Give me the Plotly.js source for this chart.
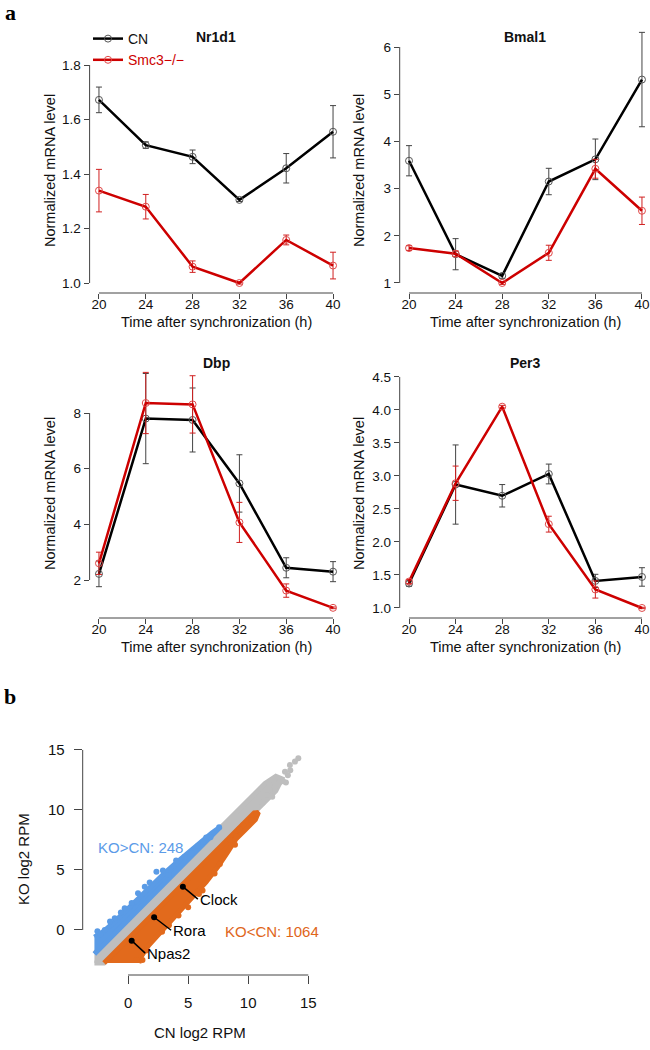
<!DOCTYPE html>
<html>
<head>
<meta charset="utf-8">
<script src="https://cdn.plot.ly/plotly-3.0.1.min.js"></script>
<style>
  body { margin: 0; background: white; }
  #chart { width: 650px; height: 1050px; }
</style>
</head>
<body>
<div id="chart"></div>
<script>
// ---- panel a: qPCR time course ----
var timePoints = [20, 24, 28, 32, 36, 40];
var timeTicks = [20, 24, 28, 32, 36, 40];

var nr1d1CN = [1.672, 1.506, 1.463, 1.305, 1.421, 1.555];
var nr1d1CNErr = [0.047, 0.012, 0.025, 0.006, 0.054, 0.096];
var nr1d1KO = [1.339, 1.280, 1.060, 1.000, 1.158, 1.064];
var nr1d1KOErr = [0.078, 0.045, 0.021, 0.004, 0.018, 0.049];
var nr1d1Ticks = [1.0, 1.2, 1.4, 1.6, 1.8];

var bmal1CN = [3.59, 1.61, 1.15, 3.15, 3.62, 5.31];
var bmal1CNErr = [0.32, 0.33, 0.05, 0.28, 0.43, 1.0];
var bmal1KO = [1.74, 1.62, 1.0, 1.64, 3.42, 2.53];
var bmal1KOErr = [0.05, 0.06, 0.03, 0.16, 0.2, 0.29];
var bmal1Ticks = [1, 2, 3, 4, 5, 6];

var dbpCN = [2.22, 7.80, 7.75, 5.47, 2.44, 2.30];
var dbpCNErr = [0.46, 1.62, 1.15, 1.03, 0.36, 0.36];
var dbpKO = [2.60, 8.36, 8.31, 4.07, 1.62, 1.00];
var dbpKOErr = [0.40, 1.10, 1.03, 0.72, 0.24, 0.03];
var dbpTicks = [2, 4, 6, 8];

var per3CN = [1.37, 2.87, 2.70, 3.03, 1.41, 1.47];
var per3CNErr = [0.04, 0.60, 0.17, 0.15, 0.10, 0.14];
var per3KO = [1.40, 2.89, 4.05, 2.27, 1.28, 1.00];
var per3KOErr = [0.03, 0.26, 0.02, 0.12, 0.13, 0.01];
var per3Ticks = [1.0, 1.5, 2.0, 2.5, 3.0, 3.5, 4.0, 4.5];

// ---- panel b: KO vs CN scatter (dense areas as outlines, plus stray points) ----
var greyBandX = [-2.8, -2.0, 3, 8, 10.5, 11.5, 12.3, 12.8, 12.3, 11.4, 10.2, 8, 5, 2, -1, -2.8];
var greyBandY = [-2.75, -2.75, 2.25, 7.25, 9.75, 10.7, 11.6, 12.6, 12.8, 12.2, 11.0, 8.8, 5.8, 2.8, -0.2, -1.95];
var koUpX = [-2.8, 7.4, 7.7, 7.0, 6.0, 5.0, 4.0, 3.0, 2.0, 1.0, 0.0, -1.0, -2.0, -2.8];
var koUpY = [-2.0, 8.2, 8.6, 8.1, 7.3, 6.5, 5.6, 4.7, 3.7, 2.7, 1.8, 0.8, -0.1, -0.6];
var koDownX = [-2.0, 10.5, 10.85, 10.6, 9.8, 9.0, 8.3, 7.5, 6.5, 5.5, 4.5, 3.5, 2.5, 1.7, 1.1, 0.9];
var koDownY = [-2.75, 9.75, 9.8, 9.2, 8.4, 7.6, 6.5, 5.3, 4.0, 2.9, 1.9, 0.8, -0.3, -1.3, -2.2, -2.75];

var greyDotsX = [14.17, 13.89, 13.47, 13.06, 13.14, 12.22, 11.81, 11.53, 10.97, 13.5, 12.9, 12.6, 12.0, 13.3, 11.2];
var greyDotsY = [14.31, 14.03, 13.75, 13.19, 12.28, 11.67, 12.08, 11.25, 10.42, 13.3, 12.4, 12.3, 11.1, 12.9, 10.6];
var upDotsX = [7.58, 6.86, 6.25, 5.83, 5.28, 4.72, 3.36, 2.36, 1.39, 0.83, -0.28, -1.11, -1.94, -2.47, -2.55, 6.5, 4.0, 2.9, 1.8, 0.3, -0.6, -1.5, -2.3];
var upDotsY = [8.56, 7.72, 7.36, 7.0, 6.39, 6.11, 4.58, 4.86, 3.61, 3.06, 1.81, 0.97, 0.0, -0.42, -0.1, 7.7, 5.8, 4.95, 3.95, 2.25, 1.45, 0.7, -0.35];
var downDotsX = [10.7, 10.28, 9.58, 9.25, 9.03, 8.47, 7.64, 6.2, 5.0, 2.83, 0.7, 8.9, 7.2, 5.9, 4.2, 3.4, 1.5, 1.2];
var downDotsY = [9.67, 9.17, 8.75, 8.39, 7.78, 7.5, 5.5, 3.3, 1.9, -0.14, -2.5, 7.1, 4.7, 3.0, 1.2, 0.4, -1.7, -2.5];

var geneNames = ['Clock', 'Rora', 'Npas2'];
var geneX = [4.56, 2.17, 0.3];
var geneY = [3.61, 1.06, -0.89];
var scatterTicks = [0, 5, 10, 15];

var FONT = 'Liberation Sans, Arial, Helvetica, sans-serif';
var CN_COL = '#000000';
var KO_COL = '#cd0000';
var GREY = '#bebebe', BLUE = '#5a9be6', ORANGE = '#e26a1c';

// pixel -> paper helpers (margins are zero)
function px(x) { return x / 650; }
function py(y) { return 1 - y / 1050; }

var traces = [];
var shapes = [];
var annotations = [];

function genePanel(n, cn, cnErr, ko, koErr, yTicks, first) {
    var xa = n === 1 ? 'x' : 'x' + n;
    var ya = n === 1 ? 'y' : 'y' + n;
    traces.push({
        x: timePoints, y: cn, xaxis: xa, yaxis: ya,
        type: 'scatter', mode: 'lines+markers', name: 'CN',
        showlegend: first,
        line: { color: CN_COL, width: 2.5 },
        marker: { symbol: 'circle-open', size: 7, color: '#555', line: { width: 1 } },
        error_y: { type: 'data', array: cnErr, visible: true, color: '#444', thickness: 1, width: 3 }
    });
    traces.push({
        x: timePoints, y: ko, xaxis: xa, yaxis: ya,
        type: 'scatter', mode: 'lines+markers',
        name: '<span style="color:#cd0000">Smc3\u2212/\u2212</span>',
        showlegend: first,
        line: { color: KO_COL, width: 2.5 },
        marker: { symbol: 'circle-open', size: 7, color: '#e04848', line: { width: 1 } },
        error_y: { type: 'data', array: koErr, visible: true, color: '#d02020', thickness: 1, width: 3 }
    });
    // R-style axis lines that only span the ticks
    shapes.push({ type: 'line', xref: xa, yref: ya + ' domain', x0: timeTicks[0], x1: timeTicks[timeTicks.length - 1], y0: 0, y1: 0, line: { color: '#444', width: 1 } });
    shapes.push({ type: 'line', xref: xa + ' domain', yref: ya, x0: 0, x1: 0, y0: yTicks[0], y1: yTicks[yTicks.length - 1], line: { color: '#444', width: 1 } });
}

genePanel(1, nr1d1CN, nr1d1CNErr, nr1d1KO, nr1d1KOErr, nr1d1Ticks, true);
genePanel(2, bmal1CN, bmal1CNErr, bmal1KO, bmal1KOErr, bmal1Ticks, false);
genePanel(3, dbpCN, dbpCNErr, dbpKO, dbpKOErr, dbpTicks, false);
genePanel(4, per3CN, per3CNErr, per3KO, per3KOErr, per3Ticks, false);

// panel b traces
function area(xs, ys, col) {
    traces.push({ x: xs, y: ys, xaxis: 'x5', yaxis: 'y5', type: 'scatter', mode: 'lines',
        fill: 'toself', fillcolor: col, line: { color: col, width: 5 }, showlegend: false, hoverinfo: 'skip' });
}
function dots(xs, ys, col) {
    traces.push({ x: xs, y: ys, xaxis: 'x5', yaxis: 'y5', type: 'scatter', mode: 'markers',
        marker: { color: col, size: 6 }, showlegend: false });
}
area(greyBandX, greyBandY, GREY);
dots(greyDotsX, greyDotsY, GREY);
area(koUpX, koUpY, BLUE);
dots(upDotsX, upDotsY, BLUE);
area(koDownX, koDownY, ORANGE);
dots(downDotsX, downDotsY, ORANGE);
traces.push({ x: geneX, y: geneY, xaxis: 'x5', yaxis: 'y5', type: 'scatter', mode: 'markers',
    marker: { color: '#000', size: 6 }, showlegend: false });

shapes.push({ type: 'line', xref: 'x5', yref: 'y5 domain', x0: 0, x1: 15, y0: 0, y1: 0, line: { color: '#444', width: 1 } });
shapes.push({ type: 'line', xref: 'x5 domain', yref: 'y5', x0: 0, x1: 0, y0: 0, y1: 15, line: { color: '#444', width: 1 } });

// gene labels with leader lines
var labelOffsets = [[15, 12.5], [17, 13], [13.5, 12.5]];
geneNames.forEach(function (g, i) {
    annotations.push({ xref: 'x5', yref: 'y5', x: geneX[i], y: geneY[i], text: g,
        showarrow: true, arrowhead: 0, arrowwidth: 1.5, arrowcolor: '#000', standoff: 0,
        ax: labelOffsets[i][0], ay: labelOffsets[i][1], xanchor: 'left', yanchor: 'middle',
        font: { size: 15, color: '#000' } });
});

// text annotations
function note(text, x, y, opts) {
    var a = { xref: 'paper', yref: 'paper', x: px(x), y: py(y), text: text, showarrow: false,
        xanchor: 'center', yanchor: 'middle', font: { size: 14.5, color: '#111' } };
    for (var k in opts) a[k] = opts[k];
    annotations.push(a);
}
note('<b>Nr1d1</b>', 216, 37, { font: { size: 14, color: '#111' } });
note('<b>Bmal1</b>', 525, 37, { font: { size: 14, color: '#111' } });
note('<b>Dbp</b>', 216, 363, { font: { size: 14, color: '#111' } });
note('<b>Per3</b>', 525, 363, { font: { size: 14, color: '#111' } });
[[50, 171], [359, 171], [50, 494], [359, 494]].forEach(function (p) {
    note('Normalized mRNA level', p[0], p[1], { textangle: -90 });
});
[[216, 322], [525, 322], [216, 647], [525, 647]].forEach(function (p) {
    note('Time after synchronization (h)', p[0], p[1]);
});
note('<b>a</b>', 3, 12, { xanchor: 'left', font: { size: 22, color: '#000', family: 'Liberation Serif, serif' } });
note('<b>b</b>', 2, 696, { xanchor: 'left', font: { size: 22, color: '#000', family: 'Liberation Serif, serif' } });
note('KO log2 RPM', 23, 859, { textangle: -90, font: { size: 15, color: '#111' } });
note('CN log2 RPM', 200, 1032, { font: { size: 15, color: '#111' } });
note('KO&gt;CN: 248', 96, 847, { xanchor: 'left', font: { size: 15, color: '#5b9be8' } });
note('KO&lt;CN: 1064', 223, 931, { xanchor: 'left', font: { size: 15, color: '#e0661a' } });

function axis(domain, range, tickvals, anchor, extra) {
    var a = { domain: domain, range: range, tickvals: tickvals, anchor: anchor,
        ticks: 'outside', ticklen: 5, tickcolor: '#444', tickwidth: 1,
        showline: false, showgrid: false, zeroline: false,
        tickfont: { size: 13.5, color: '#111' } };
    for (var k in extra) a[k] = extra[k];
    return a;
}

var leftX = [px(89.6), px(342.4)];
var rightX = [px(399.7), 1];
var topY = [py(293), py(25)];
var botY = [py(618), py(355)];
var lift = { ticklabelstandoff: -6 };

var layout = {
    width: 650, height: 1050,
    margin: { l: 0, r: 0, t: 0, b: 0 },
    paper_bgcolor: 'white', plot_bgcolor: 'rgba(0,0,0,0)',
    font: { family: FONT, color: '#111' },
    showlegend: true,
    legend: { x: px(88), y: py(23), xanchor: 'left', yanchor: 'top', bgcolor: 'rgba(0,0,0,0)',
        font: { size: 14, color: '#111' }, tracegroupgap: 0, itemwidth: 30 },
    xaxis: axis(leftX, [19.2, 40.8], timeTicks, 'y', lift),
    yaxis: axis(topY, [0.9633, 1.9468], nr1d1Ticks, 'x', { tickformat: '.1f' }),
    xaxis2: axis(rightX, [19.2, 40.69], timeTicks, 'y2', lift),
    yaxis2: axis(topY, [0.788, 6.466], bmal1Ticks, 'x2'),
    xaxis3: axis(leftX, [19.2, 40.8], timeTicks, 'y3', lift),
    yaxis3: axis(botY, [0.635, 10.085], dbpTicks, 'x3'),
    xaxis4: axis(rightX, [19.2, 40.69], timeTicks, 'y4', lift),
    yaxis4: axis(botY, [0.848, 4.833], per3Ticks, 'x4', { tickformat: '.1f' }),
    xaxis5: axis([px(82.7), px(317.3)], [-3.775, 15.75], scatterTicks, 'y5',
        { ticklen: 8, ticklabelstandoff: 6, tickfont: { size: 15, color: '#111' } }),
    yaxis5: axis([py(975), py(743)], [-3.75, 15.58], scatterTicks, 'x5',
        { ticklen: 8, ticklabelstandoff: 6, tickfont: { size: 15, color: '#111' } }),
    shapes: shapes,
    annotations: annotations
};

Plotly.newPlot('chart', traces, layout, { displayModeBar: false, staticPlot: true });
</script>
</body>
</html>
